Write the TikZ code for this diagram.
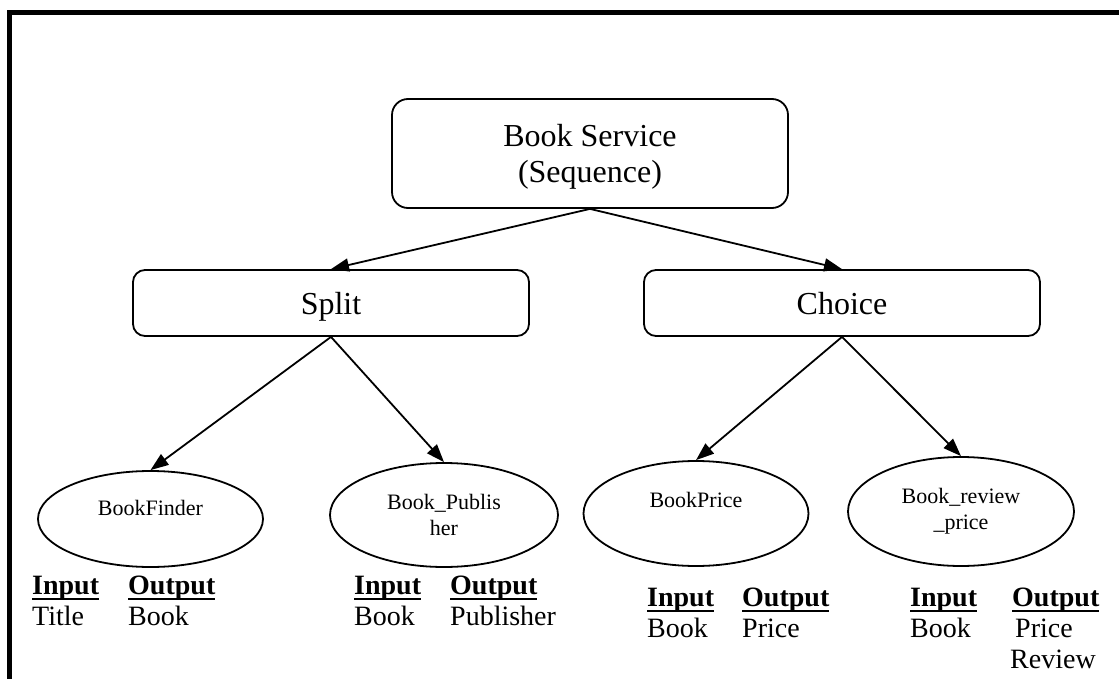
\documentclass[tikz,border=0pt]{standalone}
\usepackage{fontspec}
\setmainfont{Liberation Serif}
\usetikzlibrary{shapes.geometric,arrows.meta}

% bold heading with a heavy underline that crosses the descenders
\newlength\ulwidth
\newcommand\ulhead[1]{\settowidth\ulwidth{\textbf{#1}}\textbf{#1}\llap{\rule[-6pt]{\ulwidth}{2.5pt}}}

\begin{document}
\begin{tikzpicture}[x=1pt,y=-1pt,
  frameline/.style={line width=5pt, line join=miter},
  opbox/.style={draw, line width=1.8pt, rounded corners=12pt, minimum width=396pt, inner sep=0pt},
  svc/.style={draw, ellipse, line width=1.8pt, inner sep=0pt, font=\fontsize{22}{26}\selectfont},
  arr/.style={line width=1.8pt, -{Triangle[length=18pt,width=13pt]}},
  io/.style={anchor=base west, inner sep=0pt, font=\fontsize{28}{31}\selectfont}]

\useasboundingbox (0,0) rectangle (1119,679);

% page frame (top and left edges)
\draw[frameline] (9.5,679) -- (9.5,13) -- (1119,13);

% composite operators
\node[opbox, minimum height=109pt, rounded corners=16pt, align=center,
      font=\fontsize{32}{36}\selectfont] (seq) at (590,153.5)
      {\rule{0pt}{28pt}Book Service\\(Sequence)};
\node[opbox, minimum height=66pt, text height=22pt, text depth=0pt,
      font=\fontsize{32}{36}\selectfont] (split) at (331,303) {Split};
\node[opbox, minimum height=66pt, text height=22pt, text depth=0pt,
      font=\fontsize{32}{36}\selectfont] (choice) at (842,303) {Choice};

% atomic services
\node[svc, minimum width=225pt, minimum height=96pt, text height=15pt, text depth=23pt]
      (finder) at (150.5,519) {BookFinder};
\node[svc, minimum width=228pt, minimum height=104pt, align=center]
      (publisher) at (444,515) {Book\_Publis\\her};
\node[svc, minimum width=225pt, minimum height=105pt, text height=15pt, text depth=28pt]
      (price) at (696,513.5) {BookPrice};
\node[svc, minimum width=226pt, minimum height=109pt, align=center]
      (review) at (961,511.5) {Book\_review\\\_price};

% composition edges
\draw[arr] (seq.south) -- (split.north);
\draw[arr] (seq.south) -- (choice.north);
\draw[arr] (split.south) -- (finder.north);
\draw[arr] (split.south) -- (publisher.north);
\draw[arr] (choice.south) -- (price.north);
\draw[arr] (choice.south) -- (review.north);

% input / output signatures
\node[io] (finderio) at (32,594)
  {\begin{tabular}[t]{@{}p{96pt}@{}l@{}}\ulhead{Input} & \ulhead{Output}\\ Title & Book\end{tabular}};
\node[io] (publisherio) at (354,594)
  {\begin{tabular}[t]{@{}p{96pt}@{}l@{}}\ulhead{Input} & \ulhead{Output}\\ Book & Publisher\end{tabular}};
\node[io] (priceio) at (647,606)
  {\begin{tabular}[t]{@{}p{95pt}@{}l@{}}\ulhead{Input} & \ulhead{Output}\\ Book & Price\end{tabular}};
\node[io] (reviewio) at (910,606)
  {\begin{tabular}[t]{@{}p{102pt}@{}l@{}}\ulhead{Input} & \ulhead{Output}\\ Book & \hspace{3pt}Price\\ & \hspace{-2pt}Review\end{tabular}};

\end{tikzpicture}
\end{document}
